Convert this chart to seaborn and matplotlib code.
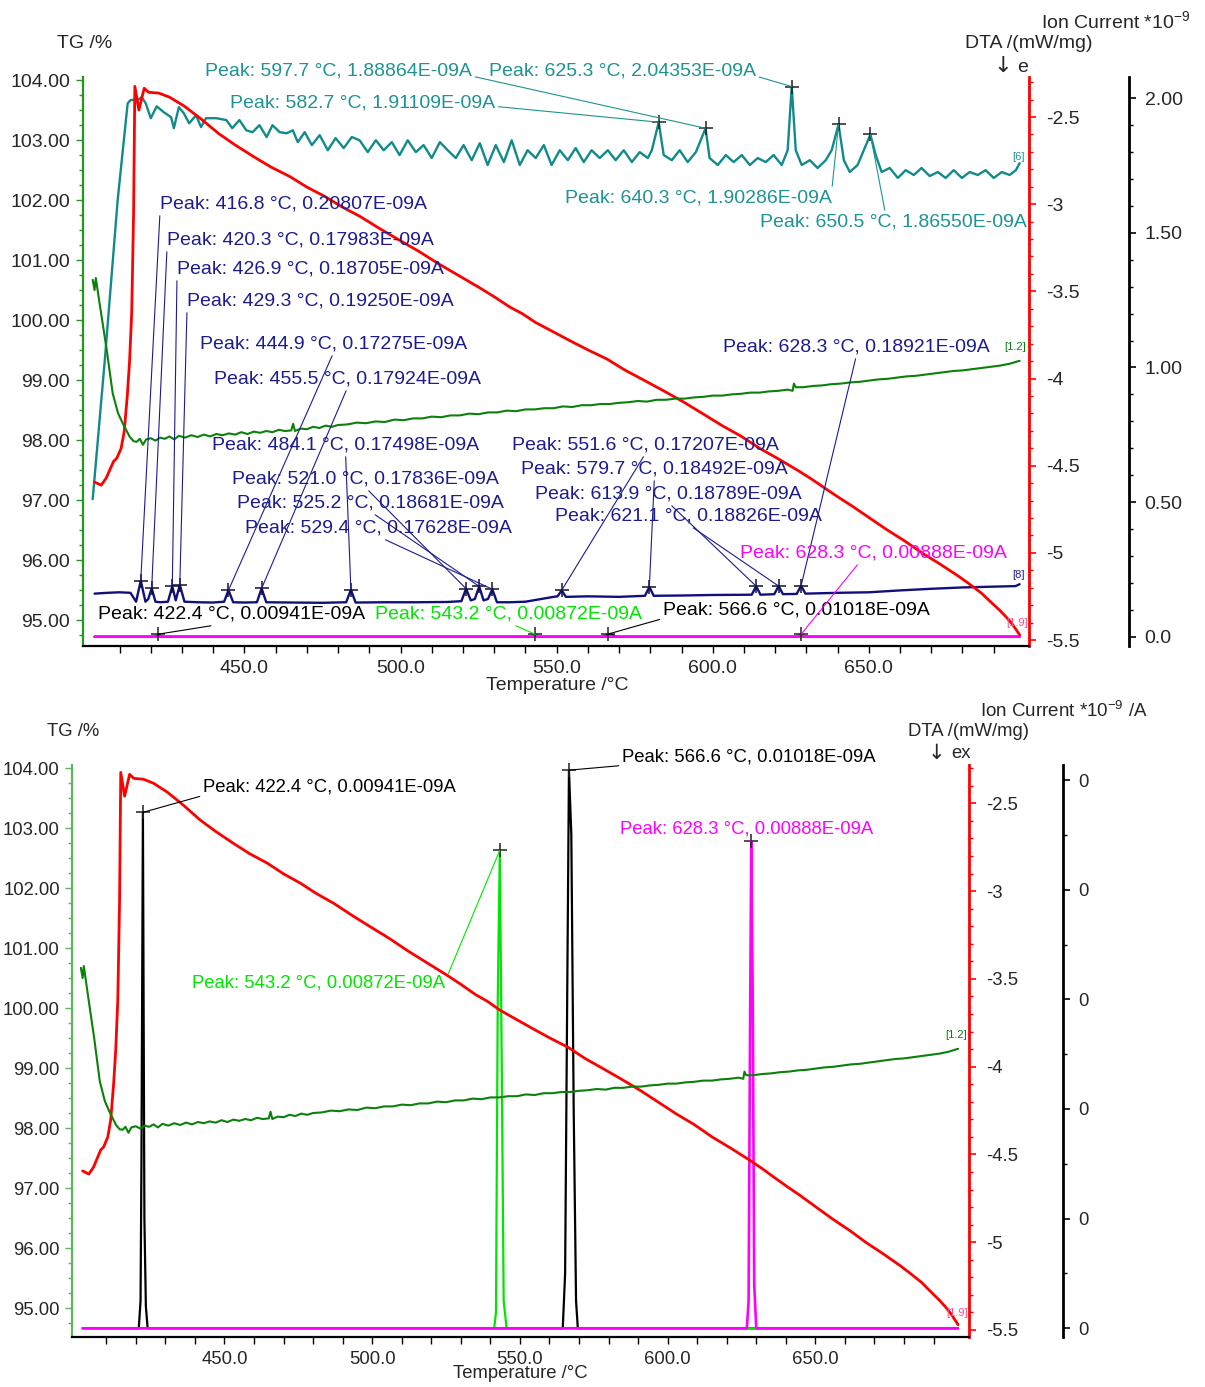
import matplotlib
matplotlib.use("Agg")
import matplotlib.pyplot as plt
from matplotlib.ticker import MultipleLocator, FixedLocator, FuncFormatter
import seaborn as sns

sns.set_style("ticks")
plt.rcParams['font.family'] = ['Liberation Sans', 'DejaVu Sans']
plt.rcParams['mathtext.fontset'] = 'custom'
plt.rcParams['mathtext.rm'] = 'Liberation Sans'
plt.rcParams['mathtext.it'] = 'Liberation Sans:italic'
plt.rcParams['axes.unicode_minus'] = False
plt.rcParams['lines.solid_joinstyle'] = 'round'

# ---------------- data ----------------
# TG curve (mass %)
tg_temp = [401.4, 402.0, 402.4, 403.6, 405.9, 407.8, 409.5, 411.0, 413.3, 414.5, 415.5, 416.5, 417.5,
           418.5, 420.0, 421.5, 423.0, 424.5, 426.0, 427.5, 429.0, 431.0, 433.0, 435.0, 437.0, 439.0,
           441.0, 443.0, 445.0, 447.0, 449.0, 451.0, 453.0, 455.0, 457.0, 459.0, 461.0, 463.0, 465.0,
           465.6, 466.2, 468.0, 470.0, 472.0, 474.0, 476.0, 478.0, 480.0, 483.0, 486.0, 489.0, 492.0,
           495.0, 498.0, 501.0, 504.0, 507.0, 510.0, 513.0, 516.0, 519.0, 522.0, 525.0, 528.0, 531.0,
           534.0, 537.0, 540.0, 543.0, 546.0, 549.0, 552.0, 555.0, 558.0, 561.0, 564.0, 567.0, 570.0,
           573.0, 576.0, 579.0, 582.0, 585.0, 588.0, 591.0, 594.0, 597.0, 600.0, 603.0, 606.0, 609.0,
           612.0, 615.0, 618.0, 621.0, 624.0, 625.6, 626.0, 626.6, 629.0, 632.0, 635.0, 638.0, 641.0,
           644.0, 647.0, 650.0, 653.0, 656.0, 659.0, 662.0, 665.0, 668.0, 671.0, 674.0, 677.0, 680.0,
           683.0, 686.0, 689.0, 692.0, 695.0, 698.3]
tg_mass = [100.67, 100.50, 100.70, 100.28, 99.50, 98.78, 98.45, 98.28, 98.05, 97.98, 97.97, 98.02, 97.92,
           98.01, 98.03, 97.99, 98.04, 98.02, 98.06, 98.01, 98.07, 98.04, 98.08, 98.05, 98.09, 98.06,
           98.10, 98.08, 98.11, 98.09, 98.13, 98.10, 98.14, 98.12, 98.15, 98.13, 98.17, 98.15, 98.16,
           98.27, 98.15, 98.19, 98.18, 98.22, 98.20, 98.24, 98.22, 98.25, 98.26, 98.29, 98.28, 98.31,
           98.30, 98.34, 98.33, 98.36, 98.36, 98.39, 98.38, 98.41, 98.41, 98.44, 98.43, 98.46, 98.46,
           98.49, 98.48, 98.51, 98.51, 98.53, 98.53, 98.56, 98.55, 98.58, 98.58, 98.60, 98.60, 98.62,
           98.63, 98.65, 98.64, 98.67, 98.67, 98.69, 98.69, 98.71, 98.72, 98.74, 98.74, 98.76, 98.77,
           98.79, 98.79, 98.81, 98.82, 98.84, 98.82, 98.94, 98.88, 98.88, 98.90, 98.91, 98.93, 98.94,
           98.96, 98.97, 98.99, 99.01, 99.02, 99.04, 99.06, 99.07, 99.09, 99.11, 99.13, 99.15, 99.16,
           99.18, 99.20, 99.22, 99.24, 99.27, 99.32]

# DTA curve (mW/mg)
dta_temp = [402.0, 404.1, 405.7, 408.1, 409.1, 410.5, 411.5, 412.5, 413.2, 413.9, 414.5, 414.9, 416.2,
            417.9, 419.3, 422.6, 426.0, 430.7, 436.1, 441.9, 447.0, 453.0, 458.5, 464.5, 470.0, 475.7,
            481.0, 487.0, 493.5, 500.0, 506.0, 512.0, 518.5, 525.3, 530.0, 535.0, 539.0, 543.2, 549.0,
            555.0, 560.5, 566.2, 572.0, 578.0, 584.0, 590.5, 597.0, 603.0, 609.0, 615.0, 621.5, 627.7,
            632.0, 636.0, 640.5, 644.6, 650.0, 656.0, 661.5, 667.0, 672.5, 678.4, 682.0, 686.0, 689.0,
            691.9, 694.0, 696.0, 698.3]
dta_signal = [-4.594, -4.612, -4.572, -4.475, -4.458, -4.401, -4.304, -4.094, -3.906, -3.621, -3.052,
              -2.324, -2.460, -2.335, -2.358, -2.363, -2.386, -2.437, -2.511, -2.597, -2.660, -2.728,
              -2.787, -2.841, -2.902, -2.955, -3.013, -3.070, -3.142, -3.210, -3.272, -3.340, -3.408,
              -3.479, -3.531, -3.590, -3.628, -3.678, -3.733, -3.790, -3.840, -3.889, -3.953, -4.010,
              -4.068, -4.133, -4.204, -4.270, -4.330, -4.400, -4.466, -4.532, -4.581, -4.630, -4.684,
              -4.731, -4.797, -4.870, -4.932, -5.000, -5.061, -5.130, -5.176, -5.230, -5.281, -5.329,
              -5.368, -5.410, -5.470]

# Ion current [6] (1e-9 A)
ms6_temp = [401.4, 405.3, 409.4, 411.7, 412.6, 413.5, 416.1, 417.1, 418.4, 420.0, 421.9, 424.2, 426.5,
            427.4, 429.0, 430.6, 432.3, 434.5, 436.1, 437.7, 441.0, 444.2, 446.1, 448.4, 450.6, 452.6,
            454.8, 457.1, 459.0, 461.3, 463.5, 465.5, 467.1, 469.3, 471.6, 474.1, 476.7, 479.2, 481.8,
            484.4, 486.9, 489.5, 492.1, 494.6, 497.2, 499.7, 502.3, 504.9, 507.4, 510.0, 512.6, 515.1,
            517.7, 520.2, 522.8, 525.4, 527.9, 530.5, 533.1, 535.6, 538.2, 540.7, 543.3, 545.9, 548.4,
            551.0, 553.6, 556.1, 558.7, 561.2, 563.8, 566.4, 568.9, 571.5, 574.1, 576.6, 579.2, 580.5,
            582.7, 584.3, 586.9, 589.4, 592.0, 594.6, 597.7, 599.0, 601.6, 604.2, 606.7, 609.3, 611.9,
            614.4, 617.0, 619.5, 622.1, 624.0, 625.3, 626.6, 628.5, 631.1, 633.6, 636.2, 638.1, 640.3,
            642.0, 643.9, 646.4, 648.4, 650.5, 652.2, 654.1, 656.7, 659.3, 661.8, 664.4, 666.9, 669.5,
            672.1, 674.6, 677.2, 679.8, 682.3, 684.9, 687.4, 690.0, 692.6, 695.1, 697.1, 698.3]
ms6_ion = [0.511, 1.030, 1.622, 1.881, 1.981, 1.993, 1.996, 2.004, 1.981, 1.926, 1.970, 1.948, 1.930,
           1.889, 1.967, 1.944, 1.907, 1.937, 1.893, 1.926, 1.926, 1.919, 1.889, 1.919, 1.881, 1.874,
           1.900, 1.856, 1.900, 1.874, 1.870, 1.881, 1.837, 1.874, 1.826, 1.863, 1.807, 1.852, 1.815,
           1.856, 1.844, 1.800, 1.844, 1.807, 1.837, 1.789, 1.844, 1.800, 1.826, 1.778, 1.837, 1.807,
           1.778, 1.826, 1.770, 1.833, 1.752, 1.826, 1.763, 1.844, 1.752, 1.807, 1.778, 1.826, 1.752,
           1.807, 1.770, 1.815, 1.763, 1.807, 1.778, 1.807, 1.770, 1.807, 1.763, 1.800, 1.778, 1.807,
           1.91109, 1.789, 1.770, 1.807, 1.763, 1.800, 1.88864, 1.778, 1.752, 1.789, 1.763, 1.789, 1.752,
           1.778, 1.763, 1.789, 1.752, 1.807, 2.04353, 1.807, 1.752, 1.770, 1.741, 1.770, 1.807, 1.90286,
           1.770, 1.726, 1.752, 1.807, 1.86550, 1.789, 1.726, 1.741, 1.704, 1.733, 1.715, 1.741, 1.711,
           1.726, 1.704, 1.733, 1.704, 1.726, 1.715, 1.733, 1.704, 1.726, 1.715, 1.733, 1.759]

# Ion current [8] (1e-9 A)
ms8_temp = [402.0, 406.0, 410.0, 413.5, 415.3, 416.8, 418.3, 419.2, 420.3, 421.5, 423.0, 425.5, 426.9,
            428.0, 429.3, 430.8, 435.0, 440.0, 443.5, 444.9, 446.4, 450.0, 454.0, 455.5, 457.0, 465.0,
            475.0, 482.6, 484.1, 485.6, 495.0, 505.0, 515.0, 519.5, 521.0, 522.5, 523.8, 525.2, 526.6,
            528.0, 529.4, 530.9, 535.0, 540.0, 545.0, 549.0, 550.3, 551.6, 553.0, 560.0, 570.0, 578.3,
            579.7, 581.1, 590.0, 600.0, 612.5, 613.9, 615.3, 619.7, 621.1, 622.5, 626.9, 628.3, 629.7,
            640.0, 650.0, 660.0, 670.0, 680.0, 690.0, 697.0, 698.3]
ms8_ion = [0.160, 0.163, 0.165, 0.163, 0.130, 0.20807, 0.130, 0.140, 0.17983, 0.130, 0.128, 0.130,
           0.18705, 0.135, 0.19250, 0.130, 0.128, 0.127, 0.130, 0.17275, 0.128, 0.127, 0.128, 0.17924,
           0.128, 0.127, 0.126, 0.128, 0.17498, 0.127, 0.128, 0.128, 0.129, 0.132, 0.17836, 0.135,
           0.140, 0.18681, 0.135, 0.140, 0.17628, 0.128, 0.128, 0.130, 0.140, 0.148, 0.150, 0.17207,
           0.148, 0.150, 0.148, 0.152, 0.18492, 0.152, 0.153, 0.155, 0.156, 0.18789, 0.156, 0.158,
           0.18826, 0.158, 0.159, 0.18921, 0.160, 0.163, 0.165, 0.172, 0.178, 0.183, 0.186, 0.188, 0.195]

# Weak ion currents (1e-9 A)
blk_temp = [402.0, 421.0, 421.6, 421.9, 422.4, 422.9, 423.4, 424.0, 564.5, 565.3, 566.0, 566.6, 567.4,
            568.2, 569.0, 569.6, 698.3]
blk_ion = [0.0, 0.0, 0.0005, 0.0030, 0.00941, 0.0020, 0.0004, 0.0, 0.0, 0.0010, 0.0060, 0.01018, 0.0090,
           0.0040, 0.0005, 0.0, 0.0]
lime_temp = [402.0, 541.3, 541.9, 542.5, 543.2, 543.9, 544.5, 545.5, 698.3]
lime_ion = [0.0, 0.0, 0.0003, 0.0060, 0.00872, 0.0045, 0.0005, 0.0, 0.0]
mag_temp = [402.0, 626.8, 627.4, 627.9, 628.3, 628.8, 629.3, 630.0, 698.3]
mag_ion = [0.0, 0.0, 0.0005, 0.0055, 0.00888, 0.0060, 0.0008, 0.0, 0.0]

# Peak tables
ms6_peak_t = [582.7, 597.7, 625.3, 640.3, 650.5]
ms6_peak_v = [1.91109, 1.88864, 2.04353, 1.90286, 1.86550]
ms8_peak_t = [416.8, 420.3, 426.9, 429.3, 444.9, 455.5, 484.1, 521.0, 525.2, 529.4, 551.6, 579.7,
              613.9, 621.1, 628.3]
ms8_peak_v = [0.20807, 0.17983, 0.18705, 0.19250, 0.17275, 0.17924, 0.17498, 0.17836, 0.18681,
              0.17628, 0.17207, 0.18492, 0.18789, 0.18826, 0.18921]
weak_peak_t = [422.4, 543.2, 566.6, 628.3]
weak_peak_v = [0.00941, 0.00872, 0.01018, 0.00888]

x_major = [450, 500, 550, 600, 650]
x_minor = [410, 420, 430, 440, 460, 470, 480, 490, 510, 520, 530, 540, 560, 570, 580, 590,
           610, 620, 630, 640, 660, 670, 680, 690]

# ---------------- styling ----------------
W, H = 1205, 1387
TEAL = '#138a8a'
TEAL_TXT = '#1f9393'
NAVY = '#10107c'
NAVY_TXT = '#1c1c8e'
TG_GREEN = '#0b800b'
RED = '#ff0000'
LIME = '#00e600'
MAGENTA = '#ff00ff'

fig = plt.figure(figsize=(W / 100, H / 100), dpi=100)
fig.patch.set_facecolor('white')


def rect(l, t, r, b):
    return [l / W, 1 - b / H, (r - l) / W, (b - t) / H]


def ftext(x, y, s, **kw):
    kw.setdefault('va', 'center')
    kw.setdefault('ha', 'left')
    fig.text(x / W, 1 - y / H, s, **kw)


def make_panel(box, ion_gap_px, tg_lim, dta_lim, ion_lim, spine_green, fs):
    ax = fig.add_axes(rect(*box))
    ax2 = ax.twinx()
    ax3 = ax.twinx()
    ax.set_zorder(3)
    ax2.set_zorder(2)
    ax3.set_zorder(1)
    for a in (ax, ax2, ax3):
        a.patch.set_visible(False)
        for s in a.spines.values():
            s.set_visible(False)
    ax.spines['left'].set_visible(True)
    ax.spines['left'].set_color(spine_green)
    ax.spines['left'].set_linewidth(1.6)
    ax.spines['bottom'].set_visible(True)
    ax.spines['bottom'].set_color('black')
    ax.spines['bottom'].set_linewidth(1.6)
    ax2.spines['right'].set_visible(True)
    ax2.spines['right'].set_color(RED)
    ax2.spines['right'].set_linewidth(2.0)
    width_px = box[2] - box[0]
    ax3.spines['right'].set_visible(True)
    ax3.spines['right'].set_color('black')
    ax3.spines['right'].set_linewidth(2.0)
    ax3.spines['right'].set_position(('axes', 1 + ion_gap_px / width_px))

    ax.set_xlim(398.2, 701.4)
    ax.set_ylim(*tg_lim)
    ax2.set_ylim(*dta_lim)
    ax3.set_ylim(*ion_lim)

    ax.xaxis.set_major_locator(FixedLocator(x_major))
    ax.xaxis.set_minor_locator(FixedLocator(x_minor))
    ax.xaxis.set_major_formatter(FuncFormatter(lambda v, p: f"{v:.1f}"))
    ax.tick_params(axis='x', which='both', bottom=True, top=False, direction='out',
                   length=5, width=1, color='black', labelsize=fs, pad=5)

    ax.yaxis.set_major_locator(MultipleLocator(1.0))
    ax.yaxis.set_minor_locator(MultipleLocator(0.25))
    ax.yaxis.set_major_formatter(FuncFormatter(lambda v, p: f"{v:.2f}"))
    ax.tick_params(axis='y', which='both', left=True, right=False, direction='out',
                   color=spine_green, labelsize=fs, pad=4)
    ax.tick_params(axis='y', which='major', length=5, width=1)
    ax.tick_params(axis='y', which='minor', length=3, width=1)

    ax2.yaxis.set_major_locator(MultipleLocator(0.5))
    ax2.yaxis.set_minor_locator(MultipleLocator(0.1))
    ax2.yaxis.set_major_formatter(FuncFormatter(lambda v, p: f"{v:g}"))
    ax2.tick_params(axis='y', which='both', left=False, right=True, direction='out',
                    color=RED, labelsize=fs, pad=7)
    ax2.tick_params(axis='y', which='major', length=5, width=1.2)
    ax2.tick_params(axis='y', which='minor', length=3, width=1)
    return ax, ax2, ax3


def draw_curves(ax, ax2, ax3):
    sns.lineplot(x=ms8_temp, y=ms8_ion, ax=ax3, color=NAVY, linewidth=1.7,
                 sort=False, estimator=None, legend=False)
    sns.lineplot(x=ms6_temp, y=ms6_ion, ax=ax3, color=TEAL, linewidth=1.7,
                 sort=False, estimator=None, legend=False)
    sns.lineplot(x=blk_temp, y=blk_ion, ax=ax3, color='black', linewidth=1.6,
                 sort=False, estimator=None, legend=False)
    sns.lineplot(x=lime_temp, y=lime_ion, ax=ax3, color=LIME, linewidth=1.6,
                 sort=False, estimator=None, legend=False)
    sns.lineplot(x=mag_temp, y=mag_ion, ax=ax3, color=MAGENTA, linewidth=1.9,
                 sort=False, estimator=None, legend=False)
    sns.lineplot(x=dta_temp, y=dta_signal, ax=ax2, color=RED, linewidth=2.0,
                 sort=False, estimator=None, legend=False)
    sns.lineplot(x=tg_temp, y=tg_mass, ax=ax, color=TG_GREEN, linewidth=1.5,
                 sort=False, estimator=None, legend=False)
    for a in (ax, ax2, ax3):
        a.set_xlabel('')
        a.set_ylabel('')


def peak_label(ax, ion_ax, t, v, color, x_px, y_px, relpos, fs):
    ax.annotate(f"Peak: {t:.1f} °C, {v:.5f}E-09A", xy=(t, v), xycoords=ion_ax.transData,
                xytext=(x_px, H - y_px), textcoords='figure pixels', ha='left', va='center',
                color=color, fontsize=fs, annotation_clip=False,
                arrowprops=dict(arrowstyle='-', color=color, lw=0.8, shrinkA=0, shrinkB=0,
                                relpos=relpos))


# ---------------- upper panel ----------------
fs_top = 14
ax, ax2, ax3 = make_panel((82.7, 77, 1029.3, 646), 100, (94.567, 104.05), (-5.5344, -2.2705),
                          (-0.0345, 2.079), '#1f9a1f', fs_top)
ax3.yaxis.set_major_locator(MultipleLocator(0.5))
ax3.yaxis.set_minor_locator(MultipleLocator(0.1))
ax3.yaxis.set_major_formatter(FuncFormatter(lambda v, p: "0.0" if abs(v) < 1e-9 else f"{v:.2f}"))
ax3.tick_params(axis='y', which='both', left=False, right=True, direction='out',
                color='black', labelsize=fs_top, pad=6)
ax3.tick_params(axis='y', which='major', length=5, width=1.2)
ax3.tick_params(axis='y', which='minor', length=3, width=1)
draw_curves(ax, ax2, ax3)

ax3.plot(ms6_peak_t, ms6_peak_v, '+', color='#222222', ms=10, mew=1.1)
ax3.plot(ms8_peak_t, ms8_peak_v, '+', color='#111133', ms=10, mew=1.1)
ax3.plot(weak_peak_t, weak_peak_v, '+', color='#222222', ms=10, mew=1.1, clip_on=False)

ms6_layout = [(230, 103, (1, 0.3)), (205, 71, (1, 0.2)), (489, 71, (1, 0.2)),
              (565, 198, (1, 1)), (760, 222, (0.47, 1))]
for t, v, (lx, ly, rp) in zip(ms6_peak_t, ms6_peak_v, ms6_layout):
    peak_label(ax, ax3, t, v, TEAL_TXT, lx, ly, rp, fs_top)

ms8_layout = [(160, 204, (0, 0)), (167, 240, (0, 0)), (177, 269, (0, 0)), (187, 301, (0, 0)),
              (200, 344, (0.5, 0)), (214, 379, (0.5, 0)), (212, 445, (0.5, 0)),
              (232, 479, (0.5, 0)), (237, 503, (0.5, 0)), (245, 528, (0.5, 0)),
              (512, 445, (0.5, 0)), (521, 469, (0.5, 0)), (535, 494, (0.5, 0)),
              (555, 516, (0.5, 0)), (723, 347, (0.5, 0))]
for t, v, (lx, ly, rp) in zip(ms8_peak_t, ms8_peak_v, ms8_layout):
    peak_label(ax, ax3, t, v, NAVY_TXT, lx, ly, rp, fs_top)

weak_colors = ['black', LIME, 'black', MAGENTA]
weak_layout_top = [(98, 614, (0.5, 0)), (375, 614, (0.5, 0)), (663, 610, (0, 0)), (740, 553, (0.45, 0))]
for t, v, c, (lx, ly, rp) in zip(weak_peak_t, weak_peak_v, weak_colors, weak_layout_top):
    peak_label(ax, ax3, t, v, c, lx, ly, rp, fs_top)

ftext(57, 44, "TG /%", fontsize=fs_top)
ftext(965, 44, "DTA /(mW/mg)", fontsize=fs_top)
ftext(993, 66, "↓", fontsize=16, family=['DejaVu Sans'])
ftext(1017, 67, "e", fontsize=fs_top)
ftext(1041, 21, "Ion Current *10$^{-9}$", fontsize=14)
ftext(557, 686, "Temperature /°C", fontsize=fs_top, ha='center')
ftext(1012, 157, "[6]", fontsize=8, color=TEAL_TXT)
ftext(1012, 575, "[8]", fontsize=8, color=NAVY_TXT)
ftext(1004, 347, "[1.2]", fontsize=8, color=TG_GREEN)
ftext(1006, 623, "[1.9]", fontsize=8, color='#ff4d88')

# ---------------- lower panel ----------------
fs_bot = 13.3
bx, bx2, bx3 = make_panel((72.3, 765, 969.3, 1337), 94, (94.517, 104.05), (-5.540, -2.282),
                          (-0.000159, 0.010274), '#5cb85c', fs_bot)
bx.set_xlim(398.5, 702.1)
bx3.yaxis.set_major_locator(FixedLocator([0.0, 0.002, 0.004, 0.006, 0.008, 0.010]))
bx3.yaxis.set_minor_locator(MultipleLocator(0.001))
bx3.yaxis.set_major_formatter(FuncFormatter(lambda v, p: f"{v:.0f}"))
bx3.tick_params(axis='y', which='both', left=False, right=True, direction='out',
                color='black', labelsize=fs_bot, pad=6)
bx3.tick_params(axis='y', which='major', length=5, width=1.2)
bx3.tick_params(axis='y', which='minor', length=3, width=1)
draw_curves(bx, bx2, bx3)
bx3.plot(weak_peak_t, weak_peak_v, '+', color='#222222', ms=10, mew=1.1, clip_on=False)

weak_layout_bot = [(203, 787, (0, 0)), (192, 983, (1, 0.6)), (622, 757, (0, 0)), (620, 829, (0.5, 0))]
for t, v, c, (lx, ly, rp) in zip(weak_peak_t, weak_peak_v, weak_colors, weak_layout_bot):
    peak_label(bx, bx3, t, v, c, lx, ly, rp, fs_bot)

ftext(47, 731, "TG /%", fontsize=fs_bot)
ftext(908, 731, "DTA /(mW/mg)", fontsize=fs_bot)
ftext(928, 753, "↓", fontsize=15, family=['DejaVu Sans'])
ftext(951, 754, "ex", fontsize=fs_bot)
ftext(980, 711, "Ion Current *10$^{-9}$ /A", fontsize=13.5)
ftext(520, 1374, "Temperature /°C", fontsize=fs_bot, ha='center')
ftext(945, 1035, "[1.2]", fontsize=8, color=TG_GREEN)
ftext(946, 1313, "[1.9]", fontsize=8, color='#ff4d88')

fig.savefig("out.png", dpi=100, facecolor='white')
